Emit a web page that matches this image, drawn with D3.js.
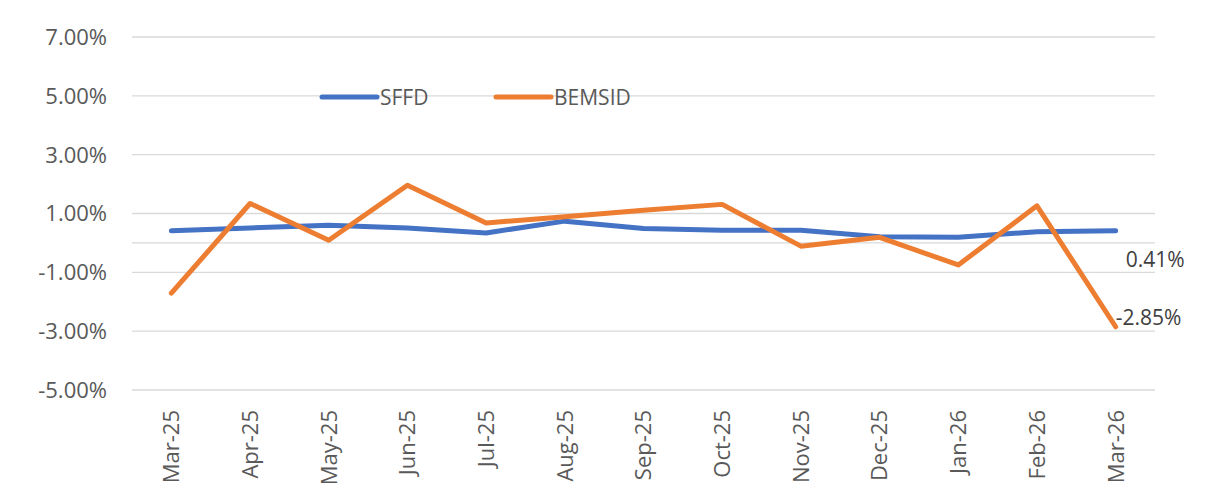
<!DOCTYPE html>
<html>
<head>
<meta charset="utf-8">
<script src="https://cdn.jsdelivr.net/npm/d3@7"></script>
<style>
    html, body { margin: 0; padding: 0; background: #fff; }
    svg { display: block; font-family: "Open Sans", "Noto Sans", sans-serif; }
</style>
</head>
<body>
<svg width="1212" height="484"></svg>
<script>
const months = ["Mar-25", "Apr-25", "May-25", "Jun-25", "Jul-25", "Aug-25", "Sep-25",
    "Oct-25", "Nov-25", "Dec-25", "Jan-26", "Feb-26", "Mar-26"];
const sffd = [0.41, 0.51, 0.60, 0.51, 0.34, 0.74, 0.49, 0.43, 0.43, 0.21, 0.19, 0.38, 0.41];
const bemsid = [-1.71, 1.34, 0.09, 1.96, 0.68, 0.89, 1.11, 1.31, -0.11, 0.19, -0.75, 1.26, -2.85];
const yTicks = [-5, -3, -1, 1, 3, 5, 7];

const series = [
    { name: "SFFD", values: sffd, color: "#4472C4" },
    { name: "BEMSID", values: bemsid, color: "#ED7D31" }
];

const attr_area = { left: 132, right: 1155, top: 37, bottom: 390 };

const svg = d3.select("svg");

const scaleX = d3.scaleBand()
    .domain(months)
    .range([attr_area.left, attr_area.right]);

const scaleY = d3.scaleLinear()
    .domain([-5, 7])
    .range([attr_area.bottom, attr_area.top]);

const cx = d => scaleX(d) + scaleX.bandwidth() / 2;

// gridlines (odd percents) plus the zero line
svg.append("g")
    .selectAll("line")
    .data(yTicks.concat([0]))
    .enter()
    .append("line")
    .attr("x1", attr_area.left)
    .attr("x2", attr_area.right)
    .attr("y1", d => scaleY(d))
    .attr("y2", d => scaleY(d))
    .style("stroke", "#d9d9d9")
    .style("stroke-width", 1.3);

// y labels
svg.append("g")
    .selectAll("text")
    .data(yTicks)
    .enter()
    .append("text")
    .attr("x", 107)
    .attr("y", d => scaleY(d))
    .attr("dy", "0.36em")
    .attr("text-anchor", "end")
    .style("font-size", "22px")
    .style("fill", "#595959")
    .text(d => d.toFixed(2) + "%");

// x labels, rotated
svg.append("g")
    .selectAll("text")
    .data(months)
    .enter()
    .append("text")
    .attr("transform", d => `translate(${cx(d)}, 410) rotate(-90)`)
    .attr("dy", "0.36em")
    .attr("text-anchor", "end")
    .style("font-size", "22px")
    .style("fill", "#595959")
    .text(d => d);

// lines
const line = d3.line()
    .x((d, i) => cx(months[i]))
    .y(d => scaleY(d));

series.forEach(s => {
    svg.append("path")
        .datum(s.values)
        .attr("d", line)
        .style("fill", "none")
        .style("stroke", s.color)
        .style("stroke-width", 5)
        .style("stroke-linejoin", "round")
        .style("stroke-linecap", "round");
});

// end labels
const last = months.length - 1;
svg.append("text")
    .attr("x", cx(months[last]) + 10)
    .attr("y", scaleY(sffd[last]) + 29)
    .attr("dy", "0.36em")
    .style("font-size", "21px")
    .style("fill", "#404040")
    .text(sffd[last].toFixed(2) + "%");

svg.append("text")
    .attr("x", cx(months[last]) + 0)
    .attr("y", scaleY(bemsid[last]) - 9)
    .attr("dy", "0.36em")
    .style("font-size", "21px")
    .style("fill", "#404040")
    .text(bemsid[last].toFixed(2) + "%");

// legend
const legend = svg.append("g");
const legendX = [322, 496];
series.forEach((s, i) => {
    const g = legend.append("g").attr("transform", `translate(${legendX[i]}, 97)`);
    g.append("line")
        .attr("x1", 0).attr("x2", 55)
        .style("stroke", s.color)
        .style("stroke-width", 5)
        .style("stroke-linecap", "round");
    g.append("text")
        .attr("x", 58)
        .attr("dy", "0.36em")
        .style("font-size", "21px")
        .style("fill", "#595959")
        .text(s.name);
});
</script>
</body>
</html>
